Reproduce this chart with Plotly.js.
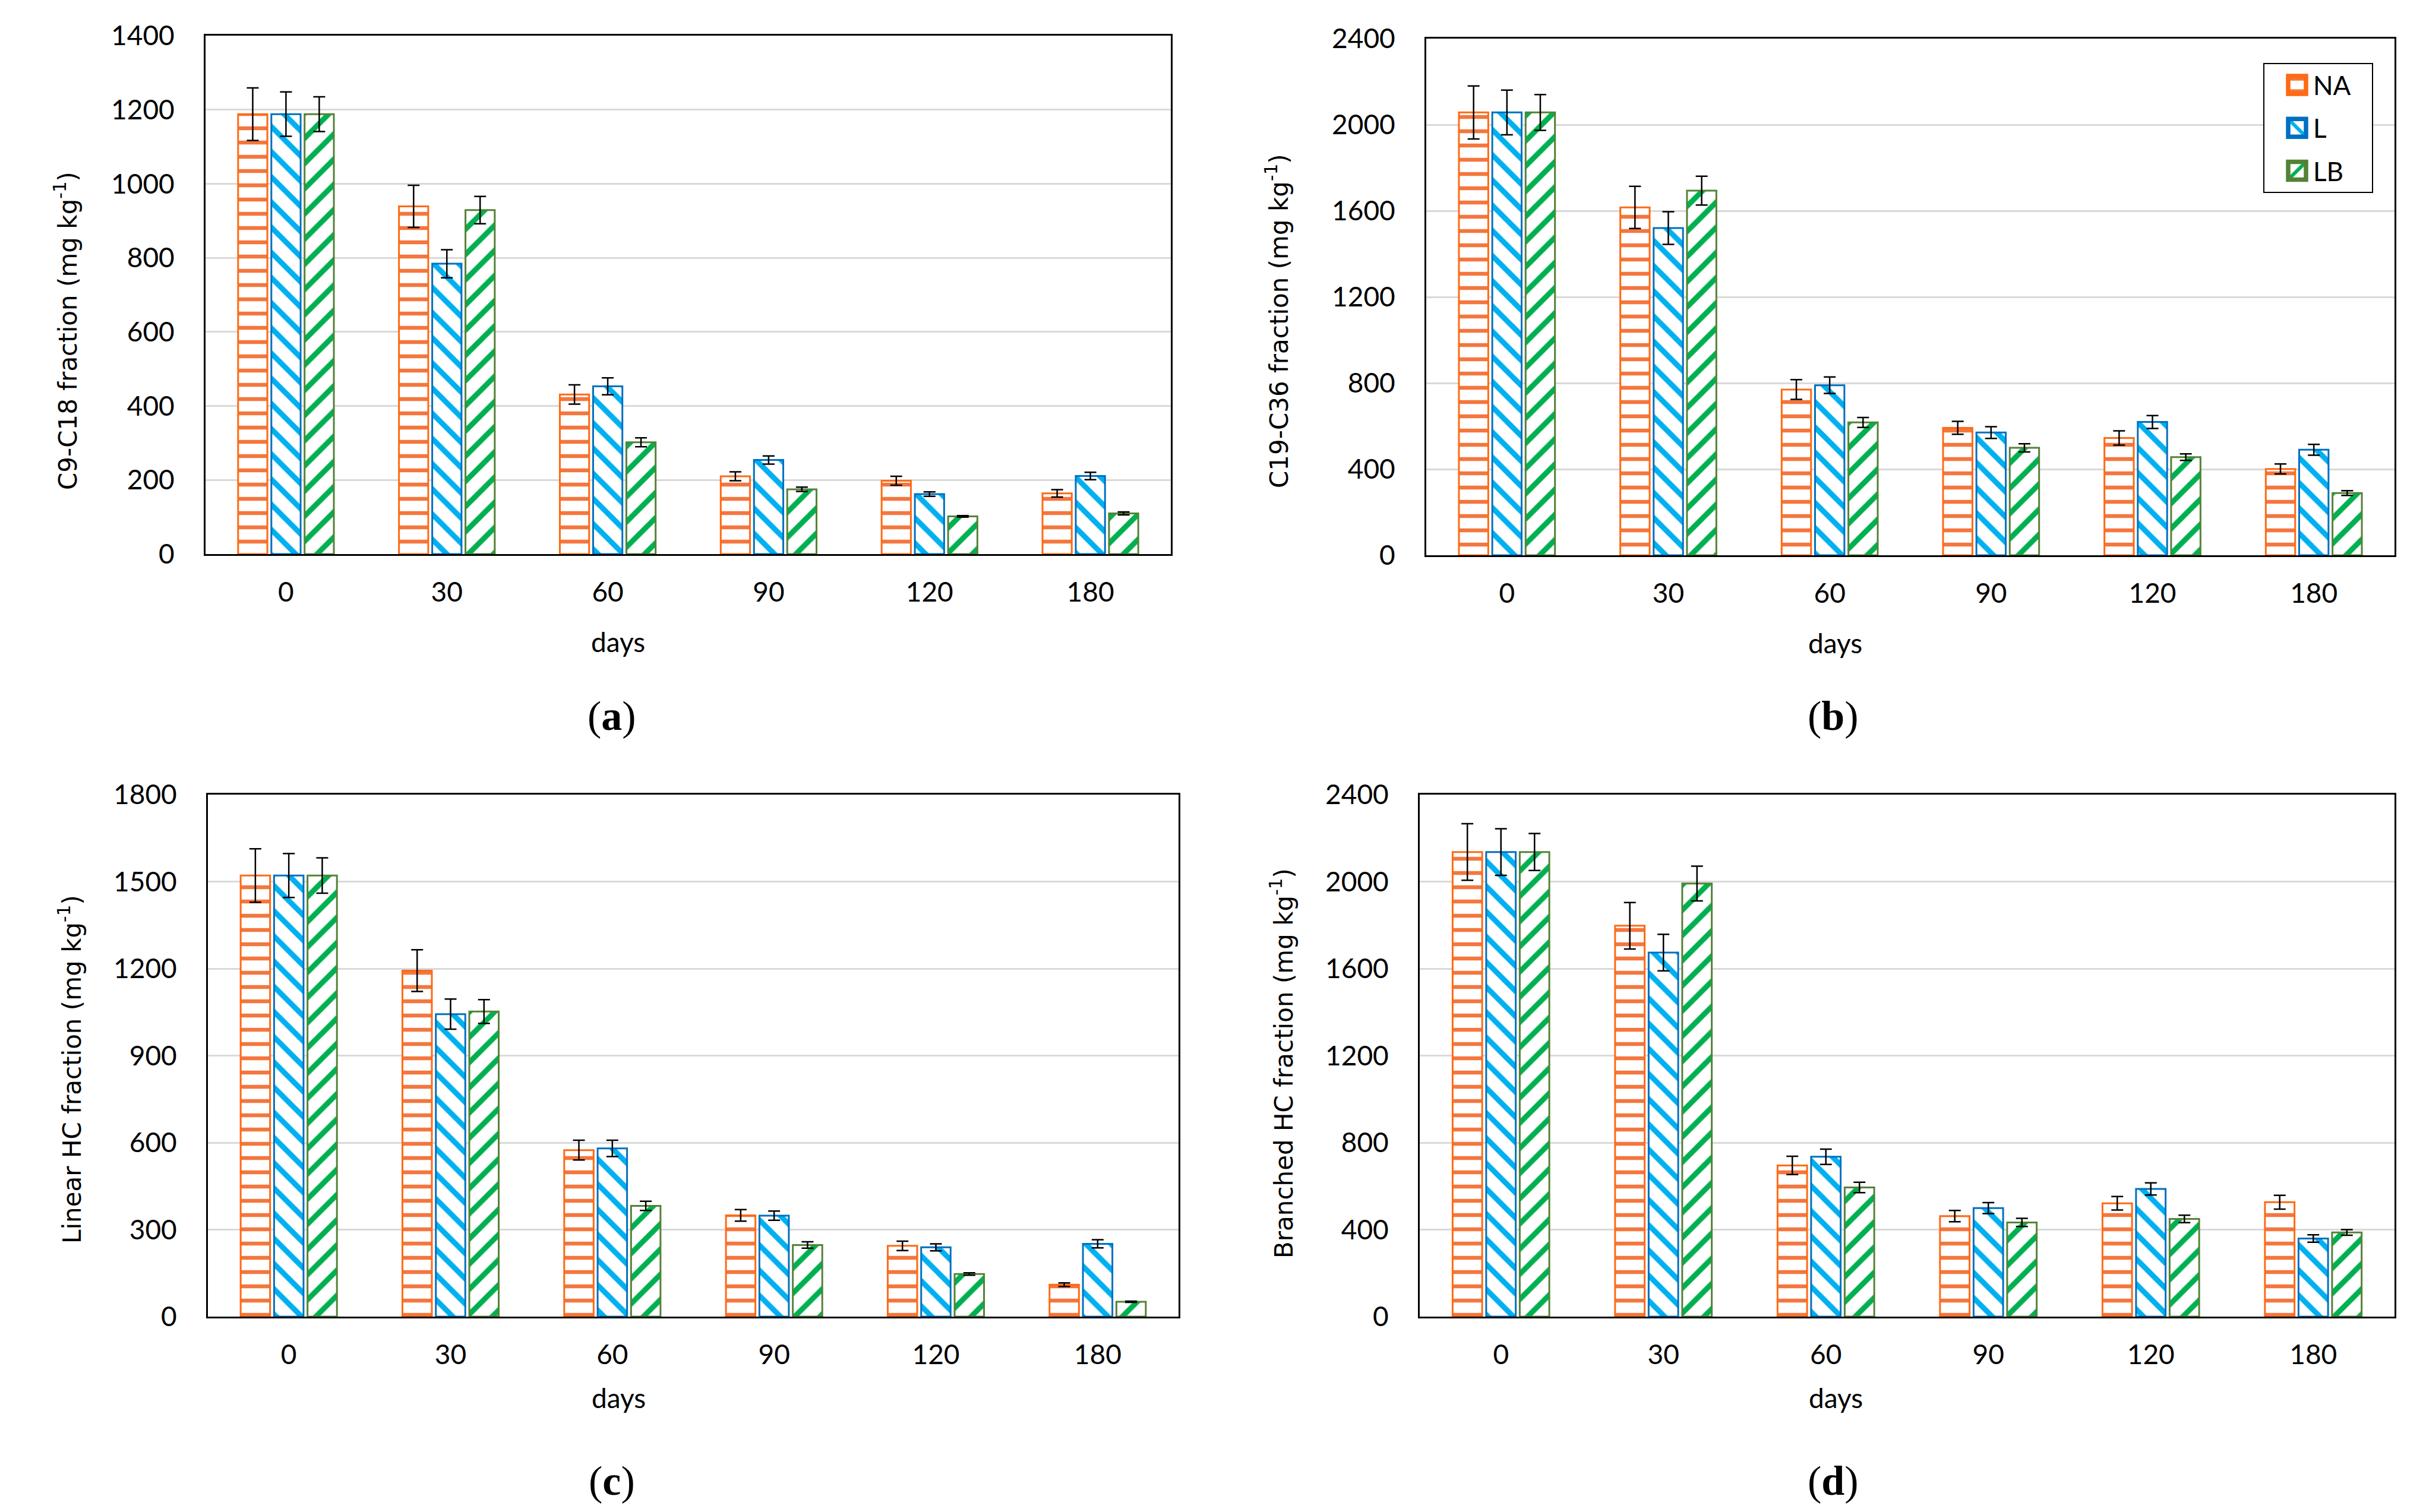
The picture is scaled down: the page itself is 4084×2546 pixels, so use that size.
<!DOCTYPE html>
<html>
<head>
<meta charset="utf-8">
<script src="https://cdn.plot.ly/plotly-3.0.1.min.js"></script>
<style>html,body{margin:0;padding:0;background:#fff;}#chart{width:4084px;height:2546px;}</style>
</head>
<body>
<div id="chart"></div>
<script>
// ---------- data ----------
var days = ['0', '30', '60', '90', '120', '180'];
var seriesNames = ['NA', 'L', 'LB'];

// (a) C9-C18 fraction
var a_NA = [1188, 939, 431, 210, 198, 164];
var a_NA_err = [71, 57, 26, 12, 12, 10];
var a_L = [1188, 784, 453, 254, 162, 211];
var a_L_err = [60, 38, 23, 11, 6, 10];
var a_LB = [1188, 929, 302, 175, 102, 110];
var a_LB_err = [47, 37, 12, 6, 2, 4];

// (b) C19-C36 fraction
var b_NA = [2057, 1616, 770, 592, 545, 401];
var b_NA_err = [123, 98, 46, 30, 33, 23];
var b_L = [2057, 1520, 790, 570, 619, 490];
var b_L_err = [104, 76, 38, 27, 30, 25];
var b_LB = [2057, 1694, 617, 499, 456, 289];
var b_LB_err = [83, 67, 23, 19, 15, 11];

// (c) Linear HC fraction
var c_NA = [1521, 1193, 574, 349, 244, 110];
var c_NA_err = [92, 72, 34, 20, 16, 6];
var c_L = [1521, 1043, 580, 348, 239, 251];
var c_L_err = [76, 52, 28, 16, 12, 14];
var c_LB = [1521, 1052, 382, 247, 147, 51];
var c_LB_err = [61, 41, 16, 11, 4, 2];

// (d) Branched HC fraction
var d_NA = [2136, 1797, 695, 462, 521, 526];
var d_NA_err = [130, 107, 42, 26, 31, 32];
var d_L = [2136, 1674, 735, 499, 587, 359];
var d_L_err = [107, 84, 35, 25, 28, 17];
var d_LB = [2136, 1991, 594, 433, 449, 387];
var d_LB_err = [85, 80, 24, 19, 17, 13];

var yTitles = ['C9-C18 fraction (mg kg<sup>-1</sup>)', 'C19-C36 fraction (mg kg<sup>-1</sup>)',
               'Linear HC fraction (mg kg<sup>-1</sup>)', 'Branched HC fraction (mg kg<sup>-1</sup>)'];
var panelLabels = ['a', 'b', 'c', 'd'];
var xTitle = 'days';

// ---------- styling ----------
var W = 4084, H = 2546;
var tickFont = {family: 'Lato, "Open Sans", sans-serif', size: 46, color: '#000'};
var styles = {
  NA: {line: '#FF6A13', fg: '#F4763E', shape: '-', size: 24, solidity: 0.27},
  L:  {line: '#0070C0', fg: '#00B0F0', shape: '\\', size: 30, solidity: 0.3},
  LB: {line: '#548235', fg: '#00B050', shape: '/', size: 30, solidity: 0.3}
};

var panels = [
  {vals: [a_NA, a_L, a_LB], errs: [a_NA_err, a_L_err, a_LB_err], range: [0, 1400], dtick: 200,
   box: [346, 1971, 60, 933], ytitle: [111, 557], days: [1040, 1080], lab: [1030, 1205]},
  {vals: [b_NA, b_L, b_LB], errs: [b_NA_err, b_L_err, b_LB_err], range: [0, 2400], dtick: 400,
   box: [2401, 4031, 65, 935], ytitle: [2151, 541], days: [3089, 1082], lab: [3086, 1205]},
  {vals: [c_NA, c_L, c_LB], errs: [c_NA_err, c_L_err, c_LB_err], range: [0, 1800], dtick: 300,
   box: [350, 1984, 1338, 2217], ytitle: [118, 1801], days: [1041, 2353], lab: [1030, 2493]},
  {vals: [d_NA, d_L, d_LB], errs: [d_NA_err, d_L_err, d_LB_err], range: [0, 2400], dtick: 400,
   box: [2390, 4031, 1338, 2217], ytitle: [2158, 1791], days: [3090, 2353], lab: [3086, 2493]}
];

var traces = [];
var layout = {
  width: W, height: H,
  margin: {l: 0, r: 0, t: 0, b: 0},
  paper_bgcolor: '#fff', plot_bgcolor: '#fff',
  barmode: 'group', bargap: 0.38, bargroupgap: 0.12,
  showlegend: true,
  legend: {
    x: 3810 / W, y: 1 - 106 / H, xanchor: 'left', yanchor: 'top',
    bgcolor: '#fff', bordercolor: '#000', borderwidth: 2,
    font: {family: 'Lato, "Open Sans", sans-serif', size: 44, color: '#000'},
    tracegroupgap: 12, itemwidth: 60
  },
  annotations: []
};

panels.forEach(function (p, i) {
  var ax = i === 0 ? '' : String(i + 1);
  seriesNames.forEach(function (s, k) {
    var st = styles[s];
    traces.push({
      type: 'bar', name: s, x: days, y: p.vals[k],
      xaxis: 'x' + ax, yaxis: 'y' + ax,
      legendgroup: s, showlegend: i === 1,
      marker: {
        color: '#fff',
        line: {color: st.line, width: 3},
        pattern: {shape: st.shape, fgcolor: st.fg, bgcolor: '#fff', size: st.size, solidity: st.solidity, fillmode: 'replace'}
      },
      error_y: {type: 'data', array: p.errs[k], visible: true, color: '#000', thickness: 2.5, width: 10},
      hoverinfo: 'skip'
    });
  });
  layout['xaxis' + ax] = {
    domain: [p.box[0] / W, p.box[1] / W], anchor: 'y' + ax,
    type: 'category', showgrid: false, zeroline: false,
    showline: true, linecolor: '#000', linewidth: 3, mirror: true,
    ticks: '', tickfont: tickFont, ticklabelstandoff: 22, fixedrange: true
  };
  layout['yaxis' + ax] = {
    domain: [1 - p.box[3] / H, 1 - p.box[2] / H], anchor: 'x' + ax,
    range: p.range, dtick: p.dtick, tick0: 0,
    showgrid: true, gridcolor: '#D9D9D9', gridwidth: 3, zeroline: false,
    showline: true, linecolor: '#000', linewidth: 3, mirror: true,
    ticks: '', tickfont: tickFont, ticklabelstandoff: 40, fixedrange: true
  };
  layout.annotations.push({
    xref: 'paper', yref: 'paper', x: p.ytitle[0] / W, y: 1 - p.ytitle[1] / H,
    text: yTitles[i], textangle: -90, showarrow: false, xanchor: 'center', yanchor: 'middle',
    font: {family: '"DejaVu Sans", sans-serif', size: 42, color: '#000'}
  });
  layout.annotations.push({
    xref: 'paper', yref: 'paper', x: p.days[0] / W, y: 1 - p.days[1] / H,
    text: xTitle, showarrow: false, xanchor: 'center', yanchor: 'middle',
    font: {family: 'Lato, "Open Sans", sans-serif', size: 46, color: '#000'}
  });
  layout.annotations.push({
    xref: 'paper', yref: 'paper', x: p.lab[0] / W, y: 1 - p.lab[1] / H,
    text: '(<b>' + panelLabels[i] + '</b>)', showarrow: false, xanchor: 'center', yanchor: 'middle',
    font: {family: '"Liberation Serif", "DejaVu Serif", serif', size: 70, color: '#000'}
  });
});

Plotly.newPlot('chart', traces, layout, {staticPlot: true, displayModeBar: false}).then(function (gd) {
  // enlarge legend swatches and widen the legend box to match reference proportions
  var extra = 42;
  gd.querySelectorAll('.legend .legendpoints path').forEach(function (pth) {
    var t = pth.getAttribute('transform') || '';
    pth.setAttribute('transform', 'translate(20,0) ' + t + ' scale(2.5)');
  });
  gd.querySelectorAll('.legend .legendtext').forEach(function (txt) {
    txt.setAttribute('transform', 'translate(12,0)');
  });
  gd.querySelectorAll('.legend rect.bg').forEach(function (r) {
    var w = parseFloat(r.getAttribute('width')) || 0;
    r.setAttribute('width', w + extra);
  });
  document.querySelectorAll('clipPath[id^="legend"] rect').forEach(function (r) {
    var w = parseFloat(r.getAttribute('width')) || 0;
    r.setAttribute('width', w + extra);
  });
});
</script>
</body>
</html>
